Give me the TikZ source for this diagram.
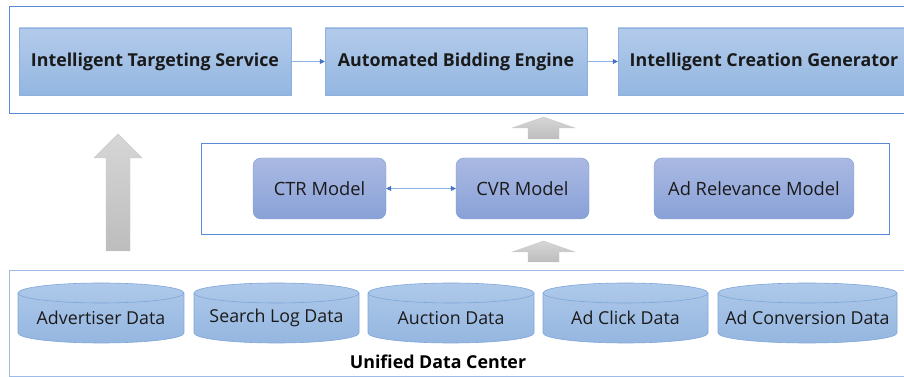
\documentclass[tikz,border=0pt]{standalone}
\usepackage{fontspec}
\setmainfont{Open Sans}
\usetikzlibrary{arrows.meta}
\definecolor{frameblue}{HTML}{5A8AD6}
\definecolor{framelight}{HTML}{9DBBE6}
\definecolor{boxtop}{HTML}{B3CBEA}
\definecolor{boxbot}{HTML}{93B6E1}
\definecolor{boxline}{HTML}{8DB0E0}
\definecolor{modtop}{HTML}{AAB9E2}
\definecolor{modbot}{HTML}{89A1D8}
\definecolor{modline}{HTML}{7F9BD6}
\definecolor{cyltop}{HTML}{AEC9EA}
\definecolor{cylbot}{HTML}{95B6E0}
\definecolor{cylline}{HTML}{7FA6DA}
\definecolor{graytop}{HTML}{D6D6D6}
\definecolor{graybot}{HTML}{BDBDBD}
\definecolor{conn}{HTML}{8EB2E2}
\definecolor{tipc}{HTML}{4472C4}
\definecolor{txt}{HTML}{1A1A1A}
\tikzset{
  topbox/.style={draw=boxline, top color=boxtop, bottom color=boxbot, minimum height=67pt, inner sep=0pt, text=txt, font=\fontsize{17.8}{20}\selectfont\bfseries},
  modbox/.style={draw=modline, top color=modtop, bottom color=modbot, rounded corners=8pt, minimum height=61pt, inner sep=0pt, text=txt, font=\fontsize{18.3}{20}\selectfont},
  cyltext/.style={text=txt, font=\fontsize{17.8}{20}\selectfont, inner sep=0pt},
  container/.style={draw=frameblue, line width=0.9pt},
  tipstyle/.tip={Triangle[length=5pt,width=5pt,color=tipc,fill=tipc]},
  flow/.style={draw=conn, line width=0.8pt, -tipstyle},
  bigarrow/.style={draw=graybot!80!white, top color=graytop, bottom color=graybot, line width=0.4pt}
}
\begin{document}
\begin{tikzpicture}[x=1pt,y=1pt]
\useasboundingbox (0,0) rectangle (904,377);
\fill[white] (0,0) rectangle (904,377);
% top container
\draw[container] (9,371) rectangle (920,264);
\node[topbox, minimum width=272pt] (its) at (155,315.5) {Intelligent Targeting Service};
\node[topbox, minimum width=262pt] (abe) at (456,315.5) {Automated Bidding Engine};
\node[topbox, minimum width=292pt] (icg) at (764,315.5) {Intelligent Creation Generator};
\draw[flow] (its.east) -- (abe.west);
\draw[flow] (abe.east) -- (icg.west);
% middle container
\draw[container] (201,234) rectangle (889,143);
\node[modbox, minimum width=133pt] (ctr) at (319.5,188.5) {CTR Model};
\node[modbox, minimum width=133pt] (cvr) at (522.5,188.5) {CVR Model};
\node[modbox, minimum width=200pt] (adr) at (754,188.5) {Ad Relevance Model};
\draw[draw=conn, line width=0.8pt, tipstyle-tipstyle] (ctr.east) -- (cvr.west);
% gray arrows
\path[bigarrow] (106,126) -- (106,219) -- (94,219) -- (118,243) -- (142,219) -- (130,219) -- (130,126) -- cycle;
\path[bigarrow] (528,238) -- (528,249) -- (512,249) -- (543.5,260) -- (575,249) -- (559,249) -- (559,238) -- cycle;
\path[bigarrow] (528,115) -- (528,125) -- (512,125) -- (543.5,136) -- (575,125) -- (559,125) -- (559,115) -- cycle;
% bottom container
\draw[draw=framelight, line width=0.9pt] (9,107) rectangle (920,1);
\foreach \nm/\xa/\xb/\lab in {adv/18/184/Advertiser Data, slog/194/359/Search Log Data, auc/368/534/Auction Data, clk/543/708/Ad Click Data, conv/718/897/Ad Conversion Data}{
  \pgfmathsetmacro\rx{(\xb-\xa)/2}
  \pgfmathsetmacro\xm{(\xa+\xb)/2}
  \path[draw=cylline, line width=0.6pt, top color=cyltop, bottom color=cylbot]
    (\xa,84) -- (\xa,44) arc[start angle=180, end angle=360, x radius=\rx, y radius=10] -- (\xb,84) arc[start angle=0, end angle=180, x radius=\rx, y radius=10] -- cycle;
  \draw[cylline, line width=0.6pt] (\xa,84) arc[start angle=180, end angle=360, x radius=\rx, y radius=10];
  \node[cyltext] (\nm) at (\xm,59) {\lab};
}
\node[text=black, font=\fontsize{17.8}{20}\selectfont\bfseries, inner sep=0pt] (udc) at (438,15) {Unified Data Center};
\end{tikzpicture}
\end{document}
